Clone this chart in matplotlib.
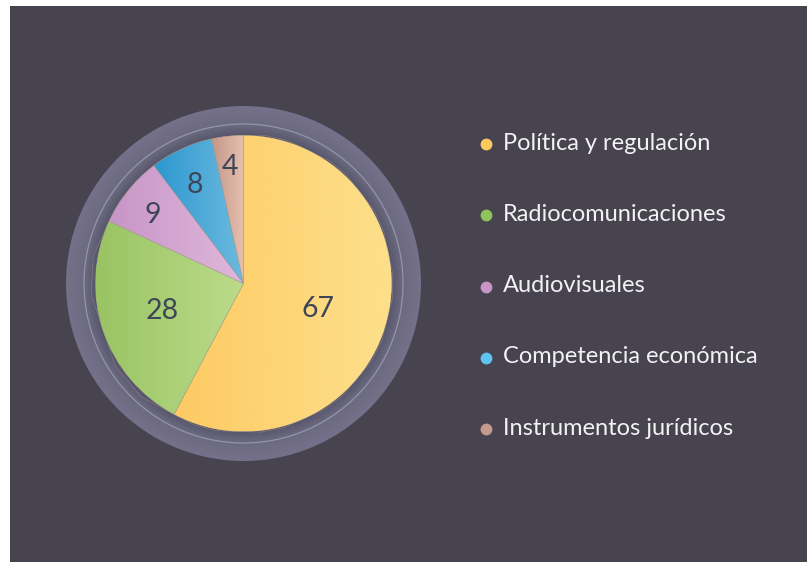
import numpy as np
import matplotlib
matplotlib.use("Agg")
import matplotlib.pyplot as plt
from matplotlib.patches import Rectangle, Circle
from matplotlib.colors import LinearSegmentedColormap, to_rgb

# Data
categories = ["Política y regulación", "Radiocomunicaciones", "Audiovisuales",
              "Competencia económica", "Instrumentos jurídicos"]
values = [67, 28, 9, 8, 4]

# Horizontal gradient (left -> right) of each slice, and legend dot colours
slice_grad = [("#fdca63", "#fde08c"),
              ("#99c463", "#bcdb8b"),
              ("#c795c6", "#e0b8dc"),
              ("#2c97cf", "#6dbbdf"),
              ("#c5978a", "#e6c0af")]
dot_colors = ["#fdc95c", "#8fc45a", "#c995c6", "#5ec3ef", "#c49a8c"]
# label placement: fraction of radius and angular nudge (deg) from the wedge middle
label_dist = [0.527, 0.574, 0.777, 0.754, 0.806]
label_turn = [-3.2, -1.1, 1.0, 1.0, 0.3]

W, H = 807, 562
BG = "#47434f"
TEXT_DARK = "#3e4557"
FONT = ["Lato", "DejaVu Sans"]

fig = plt.figure(figsize=(W / 100, H / 100), dpi=100, facecolor="white")
ax = fig.add_axes([0, 0, 1, 1])


def py(y):
    """pixel row (top-down) -> data y (bottom-up)"""
    return H - y


cx, cy = 243.5, py(283.5)
R = 148.0
R_RING = 177.5
R_LINE = 159.5

# dark panel
ax.add_patch(Rectangle((10, 0), W - 10, H - 6, facecolor=BG, edgecolor="none", zorder=0))

# halo ring with radial shading
n = 600
xs = np.linspace(cx - R_RING, cx + R_RING, n)
ys = np.linspace(cy - R_RING, cy + R_RING, n)
XX, YY = np.meshgrid(xs, ys)
RR = np.hypot(XX - cx, YY - cy)
c_in = np.array(to_rgb("#57556a"))
c_mid = np.array(to_rgb("#6c6a80"))
c_out = np.array(to_rgb("#74718a"))
t1 = np.clip((RR - R) / (R_LINE - R), 0, 1)[..., None]
t2 = np.clip((RR - R_LINE) / (R_RING - R_LINE), 0, 1)[..., None]
img = np.where(RR[..., None] < R_LINE, c_in + (c_mid - c_in) * t1, c_mid + (c_out - c_mid) * t2)
ring_img = ax.imshow(img, extent=(xs[0], xs[-1], ys[0], ys[-1]), origin="lower",
                     zorder=1, interpolation="bilinear")
ring_clip = Circle((cx, cy), R_RING, transform=ax.transData)
ring_img.set_clip_path(ring_clip)
ax.add_patch(Circle((cx, cy), R_LINE, facecolor="none", edgecolor="#a09eb2",
                    linewidth=0.9, alpha=0.8, zorder=2))

# pie
wedges, _ = ax.pie(values, startangle=90, counterclock=False, center=(cx, cy),
                   radius=R, frame=True,
                   wedgeprops=dict(linewidth=0.5, edgecolor="#9a8f86"))

for w, (c0, c1), val, d, turn in zip(wedges, slice_grad, values, label_dist, label_turn):
    w.set_zorder(3)
    w.set_facecolor(c0)
    # horizontal extent of the wedge
    th = np.radians(np.linspace(w.theta1, w.theta2, 200))
    px = np.concatenate([[cx], cx + R * np.cos(th)])
    x0, x1 = px.min(), px.max()
    cmap = LinearSegmentedColormap.from_list("g", [c0, c1])
    grad = np.linspace(0, 1, 256)[None, :]
    gi = ax.imshow(grad, cmap=cmap, extent=(x0, x1, cy - R, cy + R), aspect="auto",
                   origin="lower", zorder=4, interpolation="bilinear")
    gi.set_clip_path(w)
    # value label (baseline placed so the digits are centred on the anchor)
    mid = np.radians((w.theta1 + w.theta2) / 2 + turn)
    ax.text(cx + d * R * np.cos(mid), cy + d * R * np.sin(mid) - 10.2, str(val),
            ha="center", va="baseline", fontsize=20.5, color=TEXT_DARK,
            family=FONT, zorder=6)
    # thin edge on top of gradient
    ax.add_patch(plt.Polygon(w.get_path().vertices, closed=True, transform=w.get_transform(),
                             facecolor="none", edgecolor="#a59a8c", linewidth=0.4,
                             alpha=0.6, zorder=5))

# legend
leg_y0, leg_step = 144, 71.3
for i, (name, col) in enumerate(zip(categories, dot_colors)):
    yy = py(leg_y0 + i * leg_step)
    ax.plot([486], [yy], marker="o", markersize=7.5, color=col, linestyle="none", zorder=6)
    ax.text(503, yy - 5.5, name, ha="left", va="baseline", fontsize=17,
            color="#f2f2f4", family=FONT, zorder=6)

ax.set_xlim(0, W)
ax.set_ylim(0, H)
ax.set_aspect("auto")
ax.axis("off")

fig.savefig("out.png", dpi=100, facecolor="white")
